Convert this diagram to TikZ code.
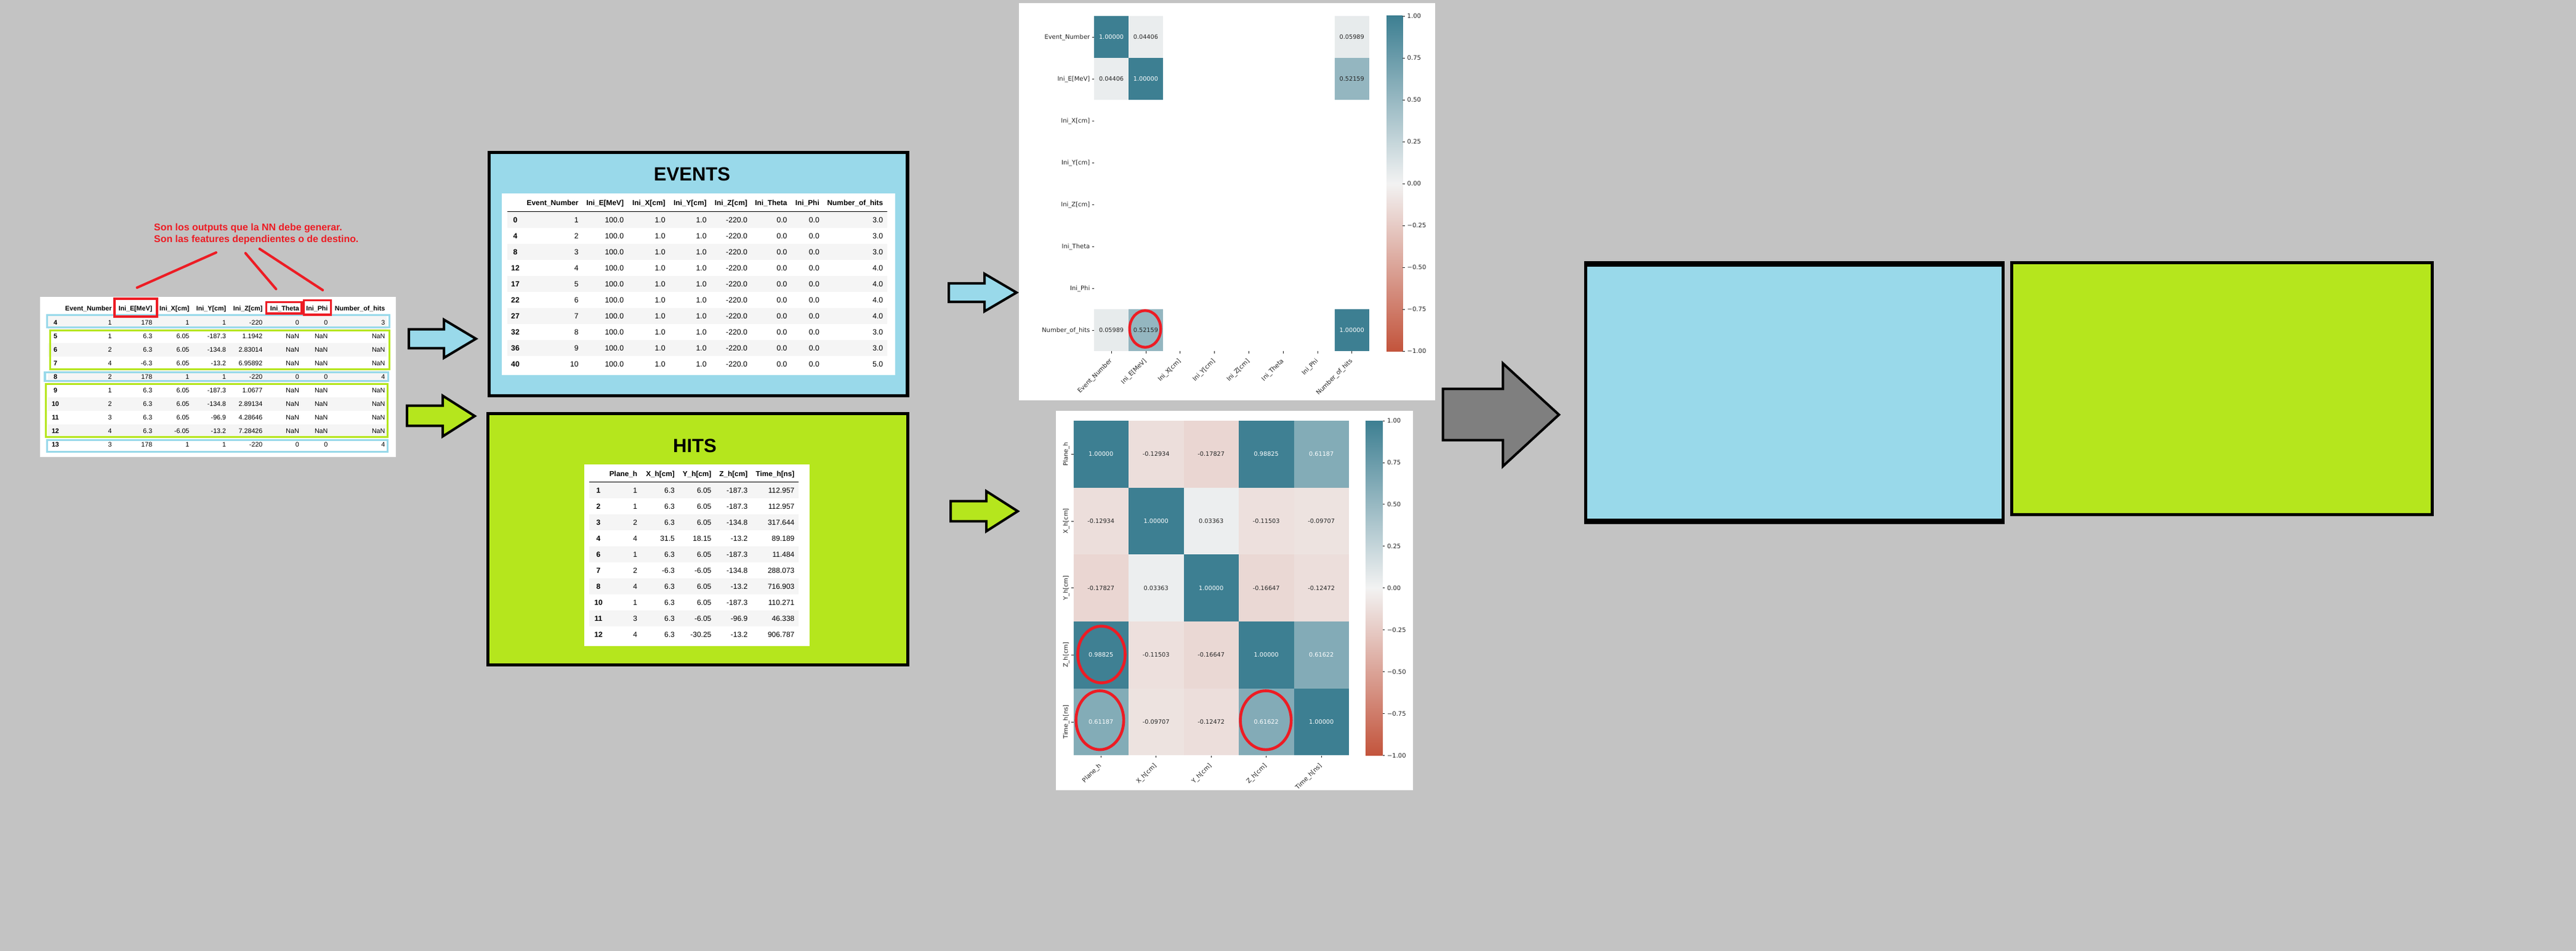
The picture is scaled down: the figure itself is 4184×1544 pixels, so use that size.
\documentclass[tikz,border=0pt]{standalone}
\usepackage{fontspec}
\setmainfont{Liberation Sans}
\newfontfamily\dvs{DejaVu Sans}
\definecolor{bgray}{RGB}{195,195,195}
\definecolor{evblue}{RGB}{153,217,234}
\definecolor{hitgreen}{RGB}{181,230,29}
\definecolor{paintred}{RGB}{237,28,36}
\definecolor{arrgray}{RGB}{127,127,127}
\definecolor{stripe}{RGB}{245,245,245}
\definecolor{hmpos}{RGB}{61,127,146}
\definecolor{hmmid}{RGB}{242,242,242}
\definecolor{hmneg}{RGB}{195,84,60}
\definecolor{hmtext}{RGB}{38,38,38}
\begin{document}
\begin{tikzpicture}[x=1pt,y=-1pt,
  lcell/.style={font=\fontsize{10.7}{12}\selectfont, inner sep=0pt, text height=7.66pt, text depth=0pt, anchor=east},
  ecell/.style={font=\fontsize{12.2}{14}\selectfont, inner sep=0pt, text height=8.73pt, text depth=0pt, anchor=east},
  hcell/.style={font=\fontsize{12}{14}\selectfont, inner sep=0pt, text height=8.6pt, text depth=0pt, anchor=east},
  title/.style={font=\fontsize{31}{34}\selectfont\bfseries, inner sep=0pt, text height=22.2pt, text depth=0pt, anchor=center},
  hval/.style={font=\dvs\fontsize{9.7}{11}\selectfont, inner sep=0pt, text height=7.07pt, text depth=0pt, anchor=center},
  hlab/.style={font=\dvs\fontsize{10}{12}\selectfont, inner sep=0pt, text height=7.29pt, text depth=0pt, text=hmtext},
  tickl/.style={line width=0.8pt, hmtext},
  bkarrow/.style={draw=black, line width=4pt, line join=miter},
  band/.style={line width=3.3pt},
  redmark/.style={draw=paintred, line width=4.4pt}
]
\useasboundingbox (0,0) rectangle (4184,1544);
\fill[bgray] (0,0) rectangle (4184,1544);

% ---------------- left raw table ----------------
\fill[white] (64.6,481.7) rectangle (642.8,741.7);
\foreach \k in {0,2,4,6,8} \fill[stripe] (78,{513+22*\k}) rectangle (628,{535+22*\k});
\foreach \hdr/\xr in {Event\_Number/181.7, Ini\_E[MeV]/247.5, Ini\_X[cm]/307.6, Ini\_Y[cm]/367.3, Ini\_Z[cm]/426.6, Ini\_Theta/486, Ini\_Phi/532.6, Number\_of\_hits/625.6}
  \node[lcell, font=\fontsize{10.7}{12}\selectfont\bfseries] at (\xr,501) {\hdr};
\foreach \ri/\colA/\colB/\colC/\colD/\colE/\colF/\colG/\colH [count=\k from 0] in
  {4/1/178/1/1/-220/0/0/3, 5/1/6.3/6.05/-187.3/1.1942/NaN/NaN/NaN, 6/2/6.3/6.05/-134.8/2.83014/NaN/NaN/NaN,
   7/4/-6.3/6.05/-13.2/6.95892/NaN/NaN/NaN, 8/2/178/1/1/-220/0/0/4, 9/1/6.3/6.05/-187.3/1.0677/NaN/NaN/NaN,
   10/2/6.3/6.05/-134.8/2.89134/NaN/NaN/NaN, 11/3/6.3/6.05/-96.9/4.28646/NaN/NaN/NaN,
   12/4/6.3/-6.05/-13.2/7.28426/NaN/NaN/NaN, 13/3/178/1/1/-220/0/0/4}
{
  \node[lcell, anchor=center, font=\fontsize{10.7}{12}\selectfont\bfseries] at (90,{524+22*\k}) {\ri};
  \node[lcell] at (181.7,{524+22*\k}) {\colA};
  \node[lcell] at (247.5,{524+22*\k}) {\colB};
  \node[lcell] at (307.6,{524+22*\k}) {\colC};
  \node[lcell] at (367.3,{524+22*\k}) {\colD};
  \node[lcell] at (426.6,{524+22*\k}) {\colE};
  \node[lcell] at (486,{524+22*\k}) {\colF};
  \node[lcell] at (532.6,{524+22*\k}) {\colG};
  \node[lcell] at (625.6,{524+22*\k}) {\colH};
}
\draw[band, evblue] (76.8,511.5) rectangle (632.5,531.2);
\draw[band, hitgreen] (81.5,536.5) rectangle (632.5,599.2);
\draw[band, evblue] (73,604.5) rectangle (630.5,618.5);
\draw[band, hitgreen] (74.5,623.2) rectangle (629.5,709.5);
\draw[band, evblue] (76.5,714.2) rectangle (629.5,733.5);
\draw[redmark, line width=4pt] (186.4,485) rectangle (255,514);
\draw[redmark, line width=3.3pt] (432.6,490.6) rectangle (490,509);
\draw[redmark, line width=3.3pt] (493.6,487.6) rectangle (537.4,511);

% red note
\node[anchor=base west, inner sep=0pt, text=paintred, font=\fontsize{15.9}{18}\selectfont\bfseries] (note1) at (250,374) {Son los outputs que la NN debe generar.};
\node[anchor=base west, inner sep=0pt, text=paintred, font=\fontsize{15.9}{18}\selectfont\bfseries] (note2) at (250,393.3) {Son las features dependientes o de destino.};
\draw[redmark, line width=4pt, line cap=round] (351,410) -- (222.6,467);
\draw[redmark, line width=4pt, line cap=round] (398.7,411) -- (448.4,469.3);
\draw[redmark, line width=4pt, line cap=round] (421.6,404) -- (524.2,471);

% ---------------- arrows left ----------------
\draw[bkarrow, fill=evblue] (664,534.7) -- (721,534.7) -- (721,519) -- (773,550) -- (721,581) -- (721,565.3) -- (664,565.3) -- cycle;
\draw[bkarrow, fill=hitgreen] (661,658.7) -- (719,658.7) -- (719,642.5) -- (771,675.5) -- (719,708.5) -- (719,691.3) -- (661,691.3) -- cycle;

% ---------------- EVENTS ----------------
\draw[line width=5.5pt, fill=evblue] (794.5,247.5) rectangle (1474,642.5);
\node[title] (evtitle) at (1124,282) {EVENTS};
\fill[white] (815,314) rectangle (1453.6,609.3);
\foreach \k in {0,2,4,6,8} \fill[stripe] (823.6,{344+26*\k}) rectangle (1441,{370+26*\k});
\draw[line width=1.3pt] (823.6,343.3) -- (1441,343.3);
\foreach \hdr/\xr in {Event\_Number/939.8, Ini\_E[MeV]/1013.3, Ini\_X[cm]/1080.8, Ini\_Y[cm]/1147.8, Ini\_Z[cm]/1214, Ini\_Theta/1278.7, Ini\_Phi/1331, Number\_of\_hits/1434.4}
  \node[ecell, font=\fontsize{11.9}{14}\selectfont\bfseries] at (\xr,329.5) {\hdr};
\foreach \ri/\colA/\colH [count=\k from 0] in {0/1/3.0, 4/2/3.0, 8/3/3.0, 12/4/4.0, 17/5/4.0, 22/6/4.0, 27/7/4.0, 32/8/3.0, 36/9/3.0, 40/10/5.0}
{
  \node[ecell, anchor=center, font=\fontsize{12.2}{14}\selectfont\bfseries] at (837,{356.7+26*\k}) {\ri};
  \node[ecell] at (939.8,{356.7+26*\k}) {\colA};
  \node[ecell] at (1013.3,{356.7+26*\k}) {100.0};
  \node[ecell] at (1080.8,{356.7+26*\k}) {1.0};
  \node[ecell] at (1147.8,{356.7+26*\k}) {1.0};
  \node[ecell] at (1214,{356.7+26*\k}) {-220.0};
  \node[ecell] at (1278.7,{356.7+26*\k}) {0.0};
  \node[ecell] at (1331,{356.7+26*\k}) {0.0};
  \node[ecell] at (1434.4,{356.7+26*\k}) {\colH};
}

% ---------------- HITS ----------------
\draw[line width=5pt, fill=hitgreen] (792,671) rectangle (1474.5,1079);
\node[title] (hittitle) at (1128.5,723) {HITS};
\fill[white] (948.5,754) rectangle (1315,1049.3);
\foreach \k in {0,2,4,6,8} \fill[stripe] (956.8,{782.7+26*\k}) rectangle (1296.6,{808.7+26*\k});
\draw[line width=1.3pt] (956.8,782.3) -- (1296.6,782.3);
\foreach \hdr/\xr in {Plane\_h/1035.3, X\_h[cm]/1096, Y\_h[cm]/1155.6, Z\_h[cm]/1214.4, Time\_h[ns]/1290.6}
  \node[hcell, font=\fontsize{11.8}{14}\selectfont\bfseries] at (\xr,768.7) {\hdr};
\foreach \ri/\colA/\colB/\colC/\colD/\colE [count=\k from 0] in
  {1/1/6.3/6.05/-187.3/112.957, 2/1/6.3/6.05/-187.3/112.957, 3/2/6.3/6.05/-134.8/317.644,
   4/4/31.5/18.15/-13.2/89.189, 6/1/6.3/6.05/-187.3/11.484, 7/2/-6.3/-6.05/-134.8/288.073,
   8/4/6.3/6.05/-13.2/716.903, 10/1/6.3/6.05/-187.3/110.271, 11/3/6.3/-6.05/-96.9/46.338,
   12/4/6.3/-30.25/-13.2/906.787}
{
  \node[hcell, anchor=center, font=\fontsize{12}{14}\selectfont\bfseries] at (972,{795.7+26*\k}) {\ri};
  \node[hcell] at (1035.3,{795.7+26*\k}) {\colA};
  \node[hcell] at (1096,{795.7+26*\k}) {\colB};
  \node[hcell] at (1155.6,{795.7+26*\k}) {\colC};
  \node[hcell] at (1214.4,{795.7+26*\k}) {\colD};
  \node[hcell] at (1290.6,{795.7+26*\k}) {\colE};
}

% ---------------- middle arrows ----------------
\draw[bkarrow, fill=evblue] (1541,460) -- (1599,460) -- (1599,444.5) -- (1651,475) -- (1599,505.5) -- (1599,490) -- (1541,490) -- cycle;
\draw[bkarrow, fill=hitgreen] (1544,813.7) -- (1602,813.7) -- (1602,797.5) -- (1653,830) -- (1602,862.5) -- (1602,846.3) -- (1544,846.3) -- cycle;

% ---------------- top heatmap ----------------
\fill[white] (1655.3,5) rectangle (2331,650);
\foreach \hi/\hj/\hv/\hcol/\htx in {0/0/1.00000/hmpos/white, 0/1/0.04406/hmpos!4.4!hmmid/hmtext, 0/7/0.05989/hmpos!6!hmmid/hmtext,
  1/0/0.04406/hmpos!4.4!hmmid/hmtext, 1/1/1.00000/hmpos/white, 1/7/0.52159/hmpos!52.2!hmmid/hmtext,
  7/0/0.05989/hmpos!6!hmmid/hmtext, 7/1/0.52159/hmpos!52.2!hmmid/hmtext, 7/7/1.00000/hmpos/white}
{
  \fill[fill=\hcol] ({1777.2+55.8*\hj},{26.1+68*\hi}) rectangle +(55.8,68);
  \node[hval, text=\htx] at ({1805.1+55.8*\hj},{60.1+68*\hi}) {\hv};
}
\foreach \lab [count=\k from 0] in {Event\_Number, Ini\_E[MeV], Ini\_X[cm], Ini\_Y[cm], Ini\_Z[cm], Ini\_Theta, Ini\_Phi, Number\_of\_hits}
{
  \node[hlab, anchor=east] at (1770.5,{60.1+68*\k}) {\lab};
  \draw[tickl] (1773.5,{60.1+68*\k}) -- (1777.2,{60.1+68*\k});
  \node[hlab, anchor=east, rotate=45] at ({1805.1+55.8*\k-1},584) {\lab};
  \draw[tickl] ({1805.1+55.8*\k},570.1) -- ({1805.1+55.8*\k},574);
}
\shade[top color=hmpos, bottom color=hmneg, middle color=hmmid] (2252,26) rectangle (2278.3,570);
\foreach \lab [count=\k from 0] in {1.00,0.75,0.50,0.25,0.00,−0.25,−0.50,−0.75,−1.00}
{
  \draw[tickl] (2278.3,{26+68*\k}) -- (2282,{26+68*\k});
  \node[hlab, anchor=west] at (2285.5,{26+68*\k}) {\lab};
}
\draw[redmark] (1860,534) ellipse [x radius=25.3pt, y radius=29.8pt];

% ---------------- bottom heatmap ----------------
\fill[white] (1715,666.8) rectangle (2295,1282.8);
\foreach \hi/\hj/\hv/\hcol/\htx in {
  0/0/1.00000/hmpos/white, 0/1/-0.12934/hmneg!12.9!hmmid/hmtext, 0/2/-0.17827/hmneg!17.8!hmmid/hmtext, 0/3/0.98825/hmpos!98.8!hmmid/white, 0/4/0.61187/hmpos!61.2!hmmid/white,
  1/0/-0.12934/hmneg!12.9!hmmid/hmtext, 1/1/1.00000/hmpos/white, 1/2/0.03363/hmpos!3.4!hmmid/hmtext, 1/3/-0.11503/hmneg!11.5!hmmid/hmtext, 1/4/-0.09707/hmneg!9.7!hmmid/hmtext,
  2/0/-0.17827/hmneg!17.8!hmmid/hmtext, 2/1/0.03363/hmpos!3.4!hmmid/hmtext, 2/2/1.00000/hmpos/white, 2/3/-0.16647/hmneg!16.6!hmmid/hmtext, 2/4/-0.12472/hmneg!12.5!hmmid/hmtext,
  3/0/0.98825/hmpos!98.8!hmmid/white, 3/1/-0.11503/hmneg!11.5!hmmid/hmtext, 3/2/-0.16647/hmneg!16.6!hmmid/hmtext, 3/3/1.00000/hmpos/white, 3/4/0.61622/hmpos!61.6!hmmid/white,
  4/0/0.61187/hmpos!61.2!hmmid/white, 4/1/-0.09707/hmneg!9.7!hmmid/hmtext, 4/2/-0.12472/hmneg!12.5!hmmid/hmtext, 4/3/0.61622/hmpos!61.6!hmmid/white, 4/4/1.00000/hmpos/white}
{
  \fill[fill=\hcol] ({1743.5+89.5*\hj},{682.9+108.7*\hi}) rectangle +(89.5,108.7);
  \node[hval, text=\htx] at ({1788.25+89.5*\hj},{737.25+108.7*\hi}) {\hv};
}
\foreach \lab [count=\k from 0] in {Plane\_h, X\_h[cm], Y\_h[cm], Z\_h[cm], Time\_h[ns]}
{
  \node[hlab, anchor=center, rotate=90] at (1730.7,{737.25+108.7*\k}) {\lab};
  \draw[tickl] (1739.8,{737.25+108.7*\k}) -- (1743.5,{737.25+108.7*\k});
  \node[hlab, anchor=east, rotate=45] at ({1788.25+89.5*\k-1.5},1241) {\lab};
  \draw[tickl] ({1788.25+89.5*\k},1226.5) -- ({1788.25+89.5*\k},1230.3);
}
\shade[top color=hmpos, bottom color=hmneg, middle color=hmmid] (2218,683) rectangle (2245.6,1226.5);
\foreach \lab [count=\k from 0] in {1.00,0.75,0.50,0.25,0.00,−0.25,−0.50,−0.75,−1.00}
{
  \draw[tickl] (2245.6,{683+67.94*\k}) -- (2249.3,{683+67.94*\k});
  \node[hlab, anchor=west] at (2252.8,{683+67.94*\k}) {\lab};
}
\draw[redmark, line width=4.6pt] (1789,1062.6) ellipse [x radius=38.5pt, y radius=46pt];
\draw[redmark, line width=4.6pt] (1786.4,1169.3) ellipse [x radius=38.7pt, y radius=47.8pt];
\draw[redmark, line width=4.6pt] (2055.9,1169.3) ellipse [x radius=41.3pt, y radius=47.8pt];

% ---------------- big gray arrow ----------------
\draw[bkarrow, fill=arrgray] (2343.7,631.3) -- (2441,631.3) -- (2441,590) -- (2532,673.3) -- (2441,757) -- (2441,714.7) -- (2343.7,714.7) -- cycle;

% ---------------- right boxes ----------------
\fill[black] (2572.7,424) rectangle (3256,850.7);
\fill[evblue] (2577.5,432.7) rectangle (3251,841.7);
\fill[black] (3264.8,424) rectangle (3953,837.7);
\fill[hitgreen] (3270,429.3) rectangle (3948,833.3);
\end{tikzpicture}
\end{document}
